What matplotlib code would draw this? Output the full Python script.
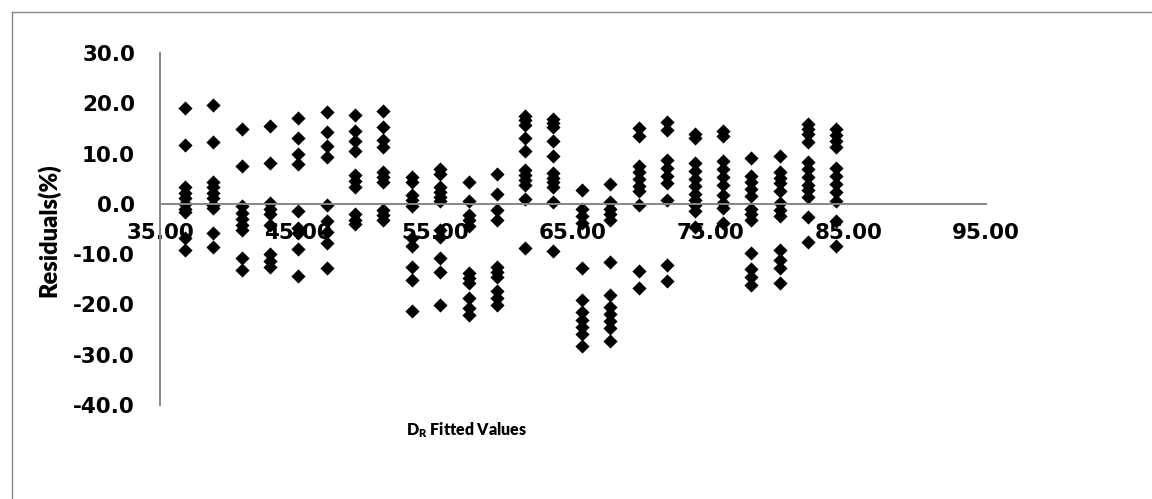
import matplotlib
matplotlib.use("Agg")
import matplotlib.pyplot as plt
from matplotlib.lines import Line2D

# fitted D_R value of each group of observations
fitted = [36.80, 38.87, 40.93, 42.99, 45.04, 47.10, 49.16, 51.21,
          53.28, 55.33, 57.44, 59.45, 61.50, 63.56, 65.67, 67.68,
          69.78, 71.80, 73.87, 75.90, 77.96, 80.00, 82.08, 84.14]

# residuals (%) observed at each fitted value
residuals = [
    [19.0, 11.7, 3.4, 2.2, 1.1, 0.0, -1.0, -1.6, -6.8, -9.1],
    [19.6, 12.3, 4.4, 3.4, 2.1, 1.1, -0.2, -0.9, -5.8, -8.5],
    [14.8, 7.6, -0.5, -1.8, -3.1, -4.2, -5.2, -10.8, -13.1],
    [15.4, 8.1, 0.2, -1.0, -2.0, -4.3, -10.0, -11.3, -12.6],
    [17.0, 13.1, 10.0, 7.9, -1.5, -4.8, -5.8, -8.9, -14.3],
    [18.3, 14.3, 11.5, 9.4, -0.2, -3.5, -5.5, -7.7, -12.8],
    [17.6, 14.4, 12.4, 10.6, 5.7, 4.5, 3.4, -2.1, -3.3, -4.1],
    [18.5, 15.2, 12.7, 11.3, 6.4, 5.4, 4.3, -1.2, -2.2, -3.2],
    [5.4, 4.3, 1.8, 0.8, -0.5, -6.7, -8.3, -12.5, -15.1, -21.4],
    [7.0, 6.0, 3.3, 2.3, 1.4, 0.6, -5.2, -6.6, -10.8, -13.6, -20.1],
    [4.4, 0.5, -2.2, -3.2, -4.5, -13.8, -14.8, -15.8, -18.8, -20.7, -22.1],
    [5.9, 1.9, -1.2, -3.2, -12.5, -13.5, -14.6, -17.4, -18.8, -20.1],
    [17.5, 16.6, 15.7, 13.0, 10.6, 6.8, 5.8, 4.8, 3.8, 0.9, -8.7],
    [16.9, 16.1, 15.3, 12.4, 9.6, 6.1, 5.1, 4.3, 3.4, 0.4, -9.3],
    [2.8, -1.0, -2.5, -3.8, -12.7, -19.2, -21.5, -23.0, -24.5, -25.8, -28.2],
    [4.0, 0.3, -1.0, -2.1, -3.2, -11.6, -18.2, -20.5, -22.0, -23.3, -24.6, -27.2],
    [15.0, 13.5, 7.6, 6.3, 5.0, 3.6, 2.6, -0.3, -13.4, -16.7],
    [16.3, 14.6, 8.7, 7.2, 5.6, 4.2, 0.7, -12.2, -15.4],
    [13.8, 13.0, 8.1, 6.6, 5.0, 3.5, 2.0, 0.7, -0.3, -1.5, -4.7],
    [14.5, 13.4, 8.5, 7.0, 5.3, 3.7, 1.7, 0.2, -0.9, -3.8],
    [9.1, 5.6, 4.3, 3.0, 1.5, -1.0, -2.1, -3.2, -9.8, -13.0, -14.5, -16.2],
    [9.6, 6.3, 5.2, 4.1, 2.5, 0.1, -1.2, -2.5, -9.1, -11.1, -12.8, -15.8],
    [15.8, 14.8, 13.8, 12.3, 8.4, 7.0, 5.3, 3.8, 2.7, 1.4, -2.6, -7.6],
    [14.8, 13.6, 12.5, 11.4, 7.2, 5.5, 4.0, 2.4, 0.6, -3.4, -8.4],
]

x_ticks = [35, 45, 55, 65, 75, 85, 95]
y_ticks = [-40, -30, -20, -10, 0, 10, 20, 30]

plt.rcParams["mathtext.fontset"] = "custom"
plt.rcParams["mathtext.rm"] = "Lato"
plt.rcParams["mathtext.bf"] = "Lato:heavy"

AXIS_GREY = "#868686"

fig = plt.figure(figsize=(11.52, 4.99), dpi=100)
ax = fig.add_axes([0.1389, 0.1884, 0.7170, 0.7054])

xs, ys = [], []
for fx, res in zip(fitted, residuals):
    xs += [fx] * len(res)
    ys += res
ax.scatter(xs, ys, marker="D", s=52, color="black", linewidths=0)

ax.set_xlim(35, 95)
ax.set_ylim(-40, 30)

# axis lines: y axis at the left, x axis crossing at zero
ax.spines["top"].set_visible(False)
ax.spines["right"].set_visible(False)
ax.spines["bottom"].set_position(("data", 0))
for side in ("left", "bottom"):
    ax.spines[side].set_color(AXIS_GREY)
    ax.spines[side].set_linewidth(1.4)

ax.set_xticks(x_ticks)
ax.set_xticklabels([f"{v:.2f}" for v in x_ticks])
ax.set_yticks(y_ticks)
ax.set_yticklabels([f"{v:.1f}" for v in y_ticks])
ax.tick_params(axis="x", length=0, pad=14)
ax.tick_params(axis="y", length=0, pad=18)
for lbl in ax.get_xticklabels() + ax.get_yticklabels():
    lbl.set_fontfamily("DejaVu Sans")
    lbl.set_fontweight("bold")
    lbl.set_fontsize(15.5)

fig.text(49 / 1152, 1 - 230 / 499, "Residuals(%)", rotation=90,
         ha="center", va="center", family="Lato", weight="heavy",
         fontsize=17)
fig.text(467 / 1152, 1 - 435 / 499, r"$\mathbf{D}_\mathbf{R}$ Fitted Values",
         ha="center", va="baseline", family="Lato", weight="heavy",
         fontsize=11.5)

# chart frame (left and top edges)
fig.add_artist(Line2D([12 / 1152, 12 / 1152], [0, 1 - 12 / 499],
                      transform=fig.transFigure, color=AXIS_GREY, lw=1.0))
fig.add_artist(Line2D([12 / 1152, 1], [1 - 12 / 499, 1 - 12 / 499],
                      transform=fig.transFigure, color=AXIS_GREY, lw=1.0))

fig.savefig("out.png", dpi=100)
